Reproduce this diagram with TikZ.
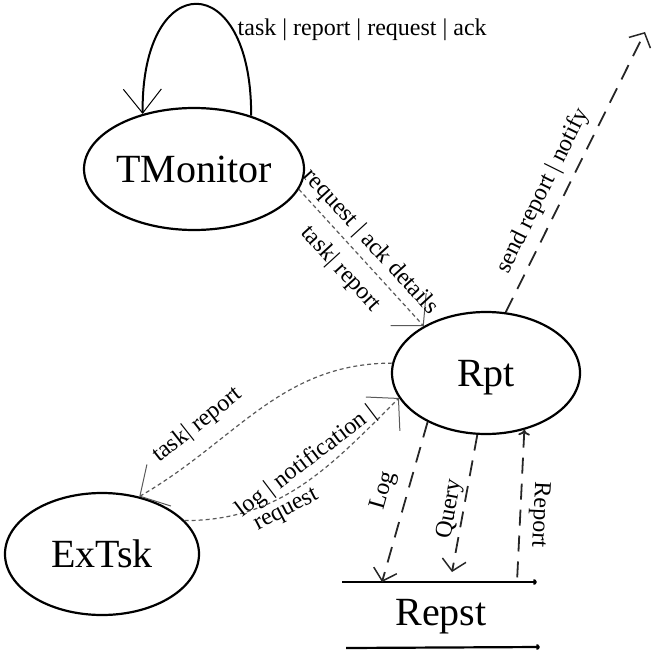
\documentclass[tikz,border=0pt]{standalone}
\usepackage{fontspec}
\setmainfont{Liberation Serif}
\usetikzlibrary{shapes.geometric,arrows.meta}

\begin{document}
\begin{tikzpicture}[x=1pt, y=-1pt,
  state/.style={draw, ellipse, line width=2.2pt, minimum width=194pt, minimum height=122pt,
    inner sep=0pt, text depth=0pt, font=\fontsize{40}{44}\selectfont},
  msg/.style={draw=black!65, line width=1.2pt, dash pattern=on 4pt off 3pt},
  flow/.style={draw=black!85, line width=1.8pt, dash pattern=on 16pt off 10pt},
  lbl/.style={font=\fontsize{24}{26}\selectfont, inner sep=1.5pt},
  wide/.style={-{Straight Barb[length=22pt,width=48pt,line width=1pt]}},
  slim/.style={-{Straight Barb[length=11pt,width=24pt,line width=1.5pt]}}]
  \useasboundingbox (0,0) rectangle (651,652);

  % States
  \node[state] (tmon) at (194,169) {TMonitor};
  \node[state, minimum width=188pt] (rpt) at (486,373) {Rpt};
  \node[state] (extsk) at (102,554) {ExTsk};

  % Report store
  \node[font=\fontsize{40}{44}\selectfont, anchor=base] (repst) at (441,625) {Repst};
  \coordinate (stA) at (342,582);
  \coordinate (stB) at (537,582);
  \coordinate (stC) at (346,648);
  \coordinate (stD) at (540,647);
  \draw[line width=2.2pt, -{To[length=4pt,width=6pt]}] (stA) -- (stB);
  \draw[line width=2.2pt, -{To[length=4pt,width=6pt]}] (stC) -- (stD);

  % Loop on TMonitor
  \draw[line width=2pt, -{Straight Barb[length=24pt,width=38pt,line width=1pt]}]
    (tmon.43) .. controls (252,-33) and (141,-33) .. (tmon.133);
  \node[lbl, anchor=base west] (looplbl) at (236,36) {task | report | request | ack};

  % TMonitor and ExTsk talk to Rpt
  \draw[msg, wide] (tmon.-11) -- (rpt.143)
    node[lbl, sloped, above=4pt, pos=.47] {request | ack details}
    node[lbl, sloped, below=10pt, pos=.47] {task| report};
  \draw[msg, wide] (rpt.174) to[out=180, in=30]
    node[lbl, sloped, above=12pt, pos=.71] {task| report} (extsk.57);
  \draw[msg, wide] (extsk.22) to[out=0, in=225]
    node[lbl, sloped, above=3pt, pos=.57] {log | notification |}
    node[lbl, sloped, below=3pt, pos=.39] {request} (rpt.196);

  % Outgoing notification
  \coordinate (notifyend) at (645,32);
  \draw[flow, slim] (rpt.72) -- (notifyend)
    node[lbl, sloped, above=7pt, pos=.4] {send report | notify};

  % Rpt and Repst
  \coordinate (logend) at (382,582);
  \coordinate (qryend) at (452,572);
  \coordinate (rptstart) at (517,582);
  \draw[flow, slim] (rpt.-140) -- (logend)
    node[lbl, sloped, above=10pt, pos=.47] {Log};
  \draw[flow, slim] (rpt.-98) -- (qryend)
    node[lbl, sloped, above, pos=.56] {Query};
  \draw[flow, slim, <-] (rpt.-56) -- (rptstart)
    node[lbl, sloped, allow upside down, above=6pt, pos=.55] {Report};
\end{tikzpicture}
\end{document}
